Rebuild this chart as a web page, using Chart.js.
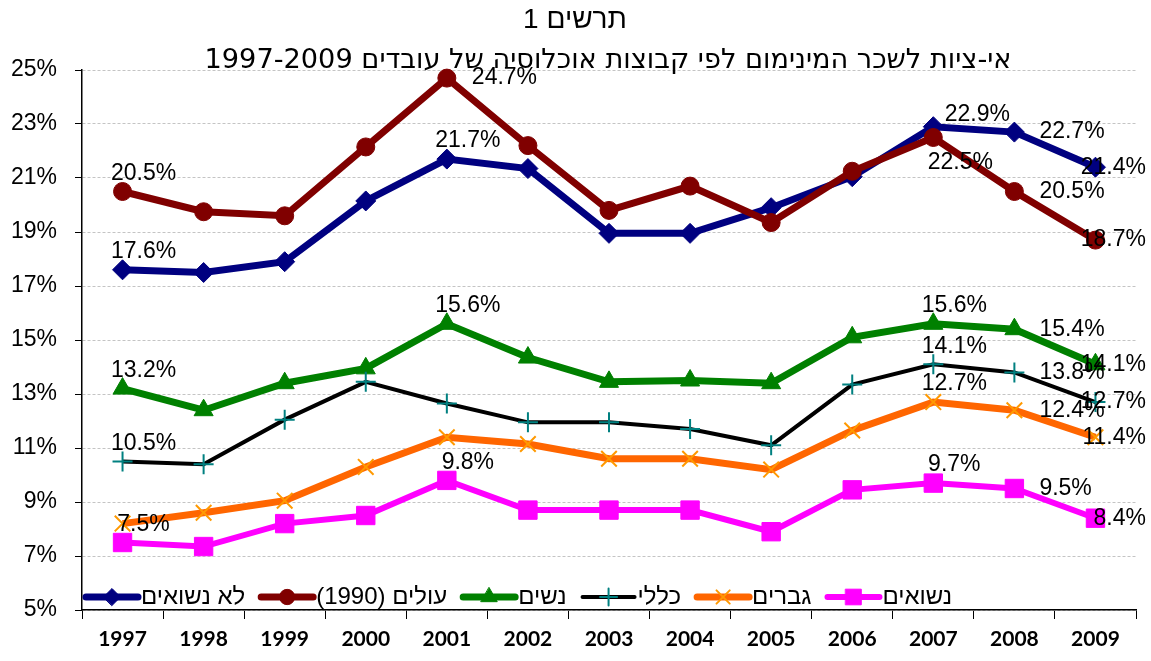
<!DOCTYPE html>
<html lang="he">
<head>
<meta charset="utf-8">
<title>תרשים 1</title>
<script src="https://cdn.jsdelivr.net/npm/chart.js@4.4.1/dist/chart.umd.min.js"></script>
<style>
  html, body { margin: 0; padding: 0; background: #fff; }
  #chart { display: block; }
</style>
</head>
<body>
<canvas id="chart" width="1151" height="661"></canvas>
<script>
// --- data (percent of workers paid below minimum wage) ---
const YEARS = ['1997', '1998', '1999', '2000', '2001', '2002', '2003', '2004', '2005', '2006', '2007', '2008', '2009'];
const Y_TICKS = [5, 7, 9, 11, 13, 15, 17, 19, 21, 23, 25];

const TITLE = 'תרשים 1';
const SUBTITLE = 'אי-ציות לשכר המינימום לפי קבוצות אוכלוסיה של עובדים 1997-2009';

const UNMARRIED = [17.6, 17.5, 17.9, 20.15, 21.7, 21.35, 18.95, 18.95, 19.9, 21.05, 22.9, 22.7, 21.4];
const IMMIGRANTS = [20.5, 19.75, 19.6, 22.15, 24.7, 22.2, 19.8, 20.7, 19.35, 21.25, 22.5, 20.5, 18.7];
const WOMEN = [13.2, 12.4, 13.4, 13.95, 15.6, 14.35, 13.45, 13.5, 13.4, 15.1, 15.6, 15.4, 14.1];
const TOTAL = [10.5, 10.4, 12.05, 13.45, 12.65, 11.95, 11.95, 11.7, 11.1, 13.35, 14.1, 13.8, 12.7];
const MEN = [8.2, 8.6, 9.05, 10.3, 11.4, 11.15, 10.6, 10.6, 10.2, 11.65, 12.7, 12.4, 11.4];
const MARRIED = [7.5, 7.35, 8.2, 8.5, 9.8, 8.7, 8.7, 8.7, 7.9, 9.45, 9.7, 9.5, 8.4];

// where the value labels sit: a = above, r = right, b = below, ar = above further right
const UNMARRIED_LABELS = { 0: 'a', 4: 'a', 10: 'ar', 11: 'r', 12: 'r' };
const IMMIGRANTS_LABELS = { 0: 'a', 4: 'r', 10: 'b', 11: 'r', 12: 'r' };
const WOMEN_LABELS = { 0: 'a', 4: 'a', 10: 'a', 11: 'r', 12: 'r' };
const TOTAL_LABELS = { 0: 'a', 10: 'a', 11: 'r', 12: 'r' };
const MEN_LABELS = { 10: 'a', 11: 'r', 12: 'r' };
const MARRIED_LABELS = { 0: 'a', 4: 'a', 10: 'a', 11: 'r', 12: 'r' };

const SANS = "'Liberation Sans', Arial, 'DejaVu Sans', sans-serif";

function series(label, data, labels, color, width, style, radius, markerColor, order) {
  const hollow = style === 'cross' || style === 'crossRot';
  return {
    label,
    data,
    valueLabels: labels,
    borderColor: color,
    borderWidth: width,
    pointStyle: style,
    pointRadius: radius,
    pointBackgroundColor: markerColor,
    pointBorderColor: markerColor,
    pointBorderWidth: hollow ? 2 : 1,
    tension: 0,
    fill: false,
    clip: false,
    order,
  };
}

/* --- titles drawn over the top of the plot --- */
const titlePlugin = {
  id: 'titles',
  afterDraw(chart) {
    const ctx = chart.ctx;
    ctx.save();
    ctx.fillStyle = '#000';
    ctx.textAlign = 'center';
    ctx.textBaseline = 'middle';
    ctx.direction = 'ltr';
    ctx.font = '28px ' + SANS;
    ctx.fillText(TITLE, 575, 20);

    ctx.direction = 'rtl';
    const fam = "'DejaVu Sans', " + SANS;
    let size = 22;
    ctx.font = size + 'px ' + fam;
    size = size * 806 / ctx.measureText(SUBTITLE).width;
    ctx.font = size.toFixed(1) + 'px ' + fam;
    ctx.fillText(SUBTITLE, 608, 61);
    ctx.restore();
  },
};

/* --- value labels like the spreadsheet ones --- */
const valueLabelPlugin = {
  id: 'valueLabels',
  afterDatasetsDraw(chart) {
    const ctx = chart.ctx;
    const right = chart.chartArea.right + 10;
    ctx.save();
    ctx.font = '23px ' + SANS;
    ctx.fillStyle = '#000';
    ctx.textAlign = 'center';
    ctx.textBaseline = 'middle';
    chart.data.datasets.forEach((ds, di) => {
      const meta = chart.getDatasetMeta(di);
      Object.entries(ds.valueLabels || {}).forEach(([idx, where]) => {
        const pt = meta.data[idx];
        if (!pt) return;
        const text = ds.data[idx].toFixed(1) + '%';
        const w = ctx.measureText(text).width;
        let x = pt.x + 21, y = pt.y - 18;
        if (where === 'r') {
          x = Math.min(pt.x + 25 + w / 2, right - w / 2);
          y = pt.y;
        } else if (where === 'b') {
          x = pt.x + 27; y = pt.y + 25;
        } else if (where === 'ar') {
          x = pt.x + 44; y = pt.y - 12;
        }
        ctx.fillText(text, x, y);
      });
    });
    ctx.restore();
  },
};

/* --- legend sits inside the plot, near the bottom --- */
const legendPlugin = {
  id: 'insideLegend',
  afterDraw(chart) {
    const ctx = chart.ctx;
    const y = 597;
    let x = 83;
    ctx.save();
    ctx.font = '24px ' + SANS;
    ctx.textBaseline = 'middle';
    ctx.textAlign = 'left';
    ctx.direction = 'rtl';
    chart.data.datasets.forEach((ds) => {
      ctx.strokeStyle = ds.borderColor;
      ctx.lineWidth = ds.borderWidth;
      ctx.lineCap = 'round';
      ctx.beginPath();
      ctx.moveTo(x + 3, y);
      ctx.lineTo(x + 55, y);
      ctx.stroke();
      ctx.fillStyle = ds.pointBackgroundColor;
      ctx.strokeStyle = ds.pointBorderColor;
      ctx.lineWidth = ds.pointBorderWidth;
      Chart.helpers.drawPoint(ctx, {
        pointStyle: ds.pointStyle,
        radius: ds.pointRadius * 0.85,
        borderWidth: ds.pointBorderWidth,
        rotation: 0,
      }, x + 29, y);
      ctx.fillStyle = '#000';
      ctx.fillText(ds.label, x + 58, y);
      x += 58 + ctx.measureText(ds.label).width + 13;
    });
    ctx.restore();
  },
};

const datasets = [
  series('לא נשואים', UNMARRIED, UNMARRIED_LABELS, '#000080', 7, 'rectRot', 10, '#000080', 6),
  series('עולים (1990)', IMMIGRANTS, IMMIGRANTS_LABELS, '#800000', 7, 'circle', 9, '#800000', 5),
  series('נשים', WOMEN, WOMEN_LABELS, '#008000', 7, 'triangle', 11, '#008000', 4),
  series('כללי', TOTAL, TOTAL_LABELS, '#000000', 4, 'cross', 10, '#008080', 3),
  series('גברים', MEN, MEN_LABELS, '#FF6600', 7, 'crossRot', 11, '#FF9900', 2),
  series('נשואים', MARRIED, MARRIED_LABELS, '#FF00FF', 6, 'rect', 13, '#FF00FF', 1),
];

new Chart(document.getElementById('chart'), {
  type: 'line',
  data: { labels: YEARS, datasets },
  plugins: [titlePlugin, valueLabelPlugin, legendPlugin],
  options: {
    responsive: false,
    animation: false,
    devicePixelRatio: 1,
    layout: { padding: { top: 70, right: 15, left: 0, bottom: 0 } },
    plugins: {
      legend: { display: false },
      title: { display: false },
      tooltip: { enabled: false },
    },
    scales: {
      x: {
        offset: true,
        grid: {
          offset: true,
          drawOnChartArea: false,
          drawTicks: true,
          tickLength: 9,
          tickColor: '#000',
          tickWidth: 1,
        },
        border: { color: '#000', width: 1.5 },
        ticks: {
          color: '#000',
          font: { family: 'Lato', weight: 'bold', size: 21 },
          padding: 8,
          maxRotation: 0,
          autoSkip: false,
        },
        afterFit: (s) => { s.height = 51; },
      },
      y: {
        min: 5,
        max: 25,
        afterBuildTicks: (s) => { s.ticks = Y_TICKS.map((v) => ({ value: v })); },
        ticks: {
          color: '#000',
          font: { family: SANS, size: 23 },
          padding: 18,
          callback: (v) => v + '%',
        },
        grid: {
          color: '#c4c4c4',
          lineWidth: 1,
          tickColor: '#000',
          tickLength: 7,
          tickBorderDash: [],
        },
        border: { color: '#000', width: 1.5, dash: [3, 2] },
        afterFit: (s) => { s.width = 82; },
      },
    },
  },
});
</script>
</body>
</html>
